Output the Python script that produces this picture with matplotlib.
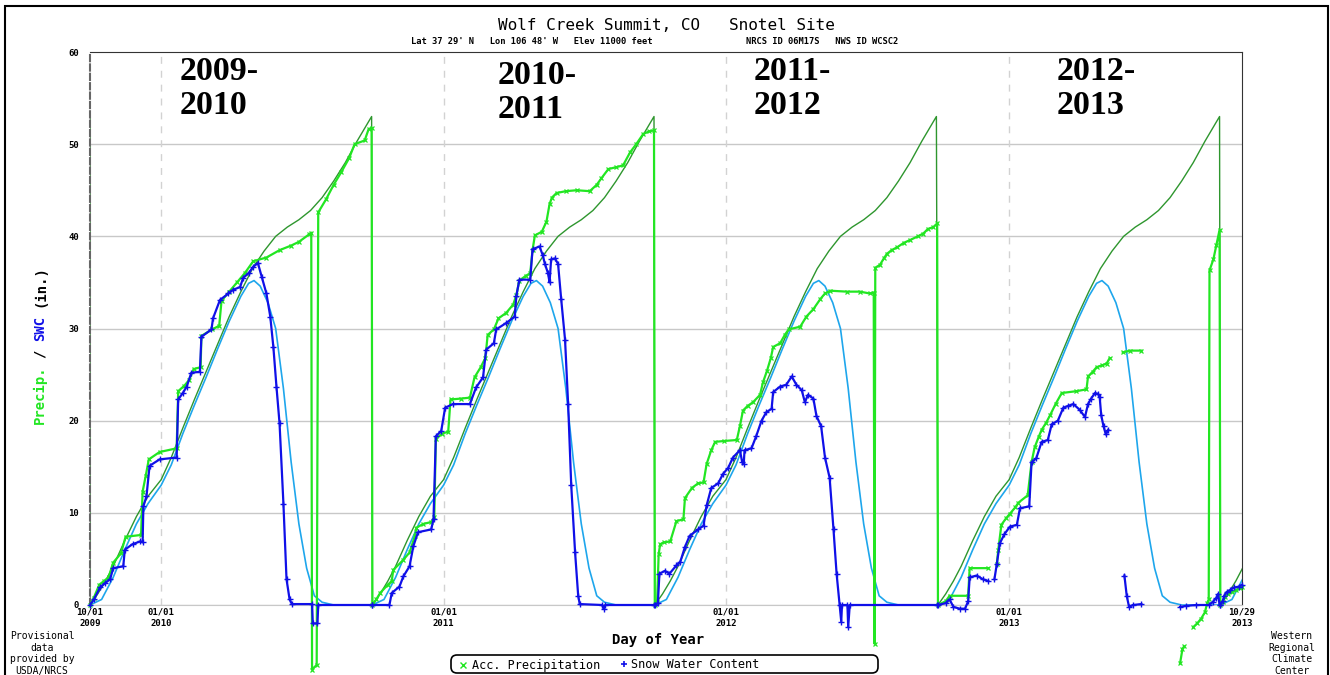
import numpy as np
import matplotlib
matplotlib.use("Agg")
import matplotlib.pyplot as plt
from matplotlib.patches import Rectangle, FancyBboxPatch
from matplotlib.lines import Line2D

nan = np.nan
W, H = 1330, 675
MONO = "DejaVu Sans Mono"

# start of each water year on the chart
wy_start = ["2009-10-01", "2010-10-01", "2011-10-01", "2012-10-01", "2013-10-01"]

# normal (median) curves, day of water year -> inches
normal_precip_day = [0, 10, 20, 30, 45, 60, 75, 92, 105, 120, 135, 150, 165, 180, 195,
                     210, 225, 240, 255, 270, 285, 300, 315, 330, 345, 364]
normal_precip = [0, 1.2, 2.6, 4.2, 7.0, 9.6, 11.8, 13.6, 16.0, 19.2, 22.3, 25.3, 28.3, 31.3, 34.0,
                 36.5, 38.4, 40.0, 41.0, 41.8, 42.8, 44.2, 46.0, 48.0, 50.3, 53.0]
normal_swc_day = [0, 15, 30, 45, 60, 75, 92, 105, 120, 135, 150, 165, 180, 195, 205, 212,
                  220, 230, 240, 250, 260, 270, 280, 290, 300, 315, 364]
normal_swc = [0, 0.6, 3.0, 6.0, 8.8, 11.0, 13.0, 15.2, 18.6, 21.7, 24.7, 27.8, 30.8, 33.5, 34.9, 35.2,
              34.6, 32.8, 30.0, 23.5, 15.5, 8.8, 4.0, 1.0, 0.3, 0, 0]

# accumulated precipitation (nan = missing)
p_day_2010 = [0, 5, 12, 18, 24, 30, 40, 46, 66, 68, 72, 76, 90, 112, 114, 122, 128, 134, 143, 144,
              158, 167, 170, 180, 190, 200, 211, 228, 245, 260, 270, 283, 286, 287, 293, 295, 305,
              315, 325, 335, 342, 355, 360, 364]
p_2010 = [0, 0.8, 2.2, 2.6, 3.0, 4.6, 5.6, 7.4, 7.6, 12.3, 14.0, 15.8, 16.6, 17.0, 23.2, 23.8, 24.4,
          25.6, 25.8, 29.2, 29.9, 30.3, 33.0, 34.0, 35.0, 36.0, 37.3, 37.7, 38.5, 39.0, 39.4, 40.2,
          40.4, -7.0, -6.5, 42.6, 44.0, 45.6, 47.0, 48.5, 50.0, 50.4, 51.6, 51.8]
p_day_2011 = [0, 5, 10, 20, 25, 27, 40, 48, 55, 57, 66, 76, 80, 82, 90, 98, 101, 115, 126, 132,
              140, 146, 149, 157, 163, 173, 182, 186, 190, 198, 204, 207, 210, 219, 225, 229, 232,
              238, 250, 264, 281, 290, 296, 305, 315, 324, 333, 341, 350, 358, 364]
p_2011 = [0, 0.6, 1.3, 2.2, 2.6, 3.8, 4.9, 5.7, 7.5, 8.4, 8.8, 9.0, 9.5, 18.0, 18.6, 18.8, 22.3, 22.4,
          22.5, 24.7, 25.8, 26.8, 29.3, 29.9, 31.1, 31.7, 32.6, 33.6, 35.2, 35.7, 36.0, 38.5, 40.1,
          40.5, 41.6, 43.5, 44.2, 44.7, 44.9, 45.0, 44.9, 45.6, 46.3, 47.3, 47.5, 47.7, 49.1, 50.0,
          51.1, 51.4, 51.5]
p_day_2012 = [0, 3, 5, 7, 12, 20, 28, 37, 39, 48, 56, 63, 67, 73, 78, 90, 106, 110, 114, 120, 127,
              136, 140, 145, 150, 153, 162, 168, 173, 188, 196, 205, 214, 220, 227, 248, 265, 278,
              283, 284, 285, 291, 296, 300, 306, 313, 322, 330, 340, 347, 353, 360, 365]
p_2012 = [0, 0.3, 5.5, 6.6, 6.8, 6.9, 9.1, 9.3, 11.6, 12.7, 13.2, 13.3, 15.3, 16.8, 17.7, 17.8, 17.9,
          19.4, 21.1, 21.6, 22.0, 22.8, 24.2, 25.4, 26.8, 28.0, 28.4, 29.3, 29.9, 30.2, 31.3, 32.1,
          33.2, 33.8, 34.1, 34.0, 34.0, 33.8, 33.9, -4.2, 36.6, 36.9, 37.6, 38.1, 38.5, 38.8, 39.3,
          39.6, 40.0, 40.3, 40.8, 41.0, 41.4]
p_day_2013 = [0, 10, 15, 39, 41, 65, 70, 76, 78, 82, 88, 93, 100, 104, 116, 121, 125, 130, 134,
              140, 145, 152, 160, 179, 192, 194, 200, 205, 212, 218, 222, 230, 239, 248, 263, 290,
              313, 316, 318, 324, 330, 335, 340, 345, 348, 350, 351, 356, 360, 364]
p_2013 = [0, 0.4, 1.0, 1.0, 4.0, 4.0, nan, 4.4, 6.0, 8.7, 9.4, 9.9, 10.6, 11.1, 11.9, 15.5, 17.1,
          18.2, 19.0, 19.8, 20.6, 21.8, 23.0, 23.2, 23.4, 24.8, 25.3, 25.8, 26.0, 26.2, 26.8, nan,
          27.4, 27.6, 27.6, nan, -6.3, -4.8, -4.5, nan, -2.4, -2.0, -1.5, -0.8, 0.2, 0.6, 36.3,
          37.5, 39.1, 40.7]
p_day_2014 = [0, 3, 6, 10, 15, 20, 25, 28]
p_2014 = [0, 0.3, 0.9, 1.2, 1.4, 1.6, 1.8, 2.0]

# snow water content
s_day_2010 = [0, 5, 13, 20, 26, 30, 43, 45, 55, 65, 68, 69, 73, 77, 90, 112, 114, 120, 125, 131,
              142, 144, 157, 159, 168, 179, 185, 194, 198, 205, 211, 217, 222, 228, 233, 237, 241,
              245, 250, 254, 258, 261, 287, 288, 294, 295, 364]
s_2010 = [0, 0.6, 1.9, 2.4, 2.8, 4.0, 4.2, 6.0, 6.6, 6.9, 6.8, 10.7, 11.8, 15.1, 15.8, 16.0, 22.3,
          23.0, 23.7, 25.2, 25.3, 29.1, 29.9, 31.1, 33.1, 33.8, 34.2, 34.5, 35.5, 36.0, 36.7, 37.1,
          35.6, 33.8, 31.3, 28.0, 23.7, 19.7, 11.0, 2.8, 0.6, 0.1, 0.1, -2.0, -2.0, 0.0, 0.0]
s_day_2011 = [0, 22, 25, 35, 40, 48, 53, 59, 76, 79, 82, 89, 94, 104, 126, 134, 143, 147, 157, 160,
              173, 184, 186, 190, 204, 207, 216, 220, 223, 227, 229, 231, 236, 240, 244, 249, 253,
              257, 262, 266, 268, 297, 299, 301, 364]
s_2011 = [0, 0, 1.3, 2.0, 3.1, 4.2, 6.4, 7.9, 8.2, 9.3, 18.3, 18.9, 21.4, 21.8, 21.8, 23.6, 24.7,
          27.7, 28.4, 29.9, 30.6, 31.3, 33.5, 35.3, 35.3, 38.6, 38.9, 38.0, 37.0, 36.0, 35.0, 37.5,
          37.6, 37.0, 33.2, 28.8, 21.8, 13.0, 5.7, 1.0, 0.1, 0.0, -0.4, 0.0, 0.0]
s_day_2012 = [0, 4, 6, 13, 19, 28, 33, 39, 45, 56, 63, 67, 73, 82, 88, 95, 101, 110, 113, 115, 116,
              125, 131, 138, 144, 151, 153, 162, 170, 177, 183, 190, 194, 198, 205, 209, 215, 220,
              226, 231, 235, 239, 241, 242, 249, 250, 252, 365]
s_2012 = [0, 0.2, 3.4, 3.7, 3.4, 4.3, 4.7, 6.3, 7.5, 8.2, 8.6, 10.8, 12.7, 13.2, 14.2, 14.9, 16.0,
          16.8, 15.5, 15.3, 16.8, 17.0, 18.3, 20.0, 20.9, 21.3, 23.1, 23.7, 23.9, 24.8, 23.9, 23.3,
          22.0, 22.8, 22.4, 20.5, 19.4, 16.0, 13.8, 8.2, 3.4, 0.0, -1.8, 0.0, 0.0, -2.4, 0.0, 0.0]
s_day_2013 = [0, 10, 15, 20, 28, 35, 39, 41, 50, 58, 65, 70, 73, 76, 80, 86, 93, 102, 106, 118,
              121, 127, 134, 142, 147, 155, 162, 168, 175, 183, 190, 194, 198, 203, 207, 209, 211,
              214, 217, 220, 230, 241, 244, 247, 252, 263, 290, 313, 320, 334, 350, 355, 360, 362, 364]
s_2013 = [0, 0.2, 0.6, -0.2, -0.4, -0.4, 0.4, 3.0, 3.2, 2.8, 2.6, nan, 2.8, 4.4, 6.7, 7.7, 8.5, 8.7,
          10.5, 10.7, 15.5, 15.9, 17.7, 17.9, 19.6, 20.0, 21.4, 21.6, 21.8, 21.2, 20.4, 21.8, 22.4,
          23.0, 22.9, 22.6, 20.6, 19.4, 18.5, 19.0, nan, 3.2, 1.0, -0.2, 0.0, 0.1, nan, -0.2, -0.1,
          0.0, 0.0, 0.3, 0.8, 1.2, 0.0]
s_day_2014 = [0, 3, 5, 8, 12, 18, 24, 28]
s_2014 = [0, 0.4, 1.0, 1.4, 1.6, 1.9, 2.0, 2.2]

tick_dates = ["2009-10-01", "2010-01-01", "2011-01-01", "2012-01-01", "2013-01-01", "2013-10-29"]
tick_labels = ["10/01\n2009", "01/01\n2010", "01/01\n2011", "01/01\n2012", "01/01\n2013", "10/29\n2013"]
season_labels = ["2009-\n2010", "2010-\n2011", "2011-\n2012", "2012-\n2013"]


def to_dates(start, days):
    return np.datetime64(start) + np.array(days, dtype="timedelta64[D]")


def join_years(day_lists, val_lists):
    x = np.concatenate([to_dates(s, d) for s, d in zip(wy_start, day_lists)])
    y = np.concatenate([np.array(v, dtype=float) for v in val_lists])
    return x, y


def px(x, y):
    # pixel position -> figure fraction
    return x / W, 1 - y / H


precip_x, precip_y = join_years([p_day_2010, p_day_2011, p_day_2012, p_day_2013, p_day_2014],
                                [p_2010, p_2011, p_2012, p_2013, p_2014])
swc_x, swc_y = join_years([s_day_2010, s_day_2011, s_day_2012, s_day_2013, s_day_2014],
                          [s_2010, s_2011, s_2012, s_2013, s_2014])

# normals repeat every water year; the first point is the end of the previous year
np_x = np.concatenate([to_dates(wy_start[0], [0])] + [to_dates(s, normal_precip_day) for s in wy_start])
np_y = np.concatenate([[normal_precip[-1]]] + [normal_precip for _ in wy_start])
ns_x = np.concatenate([to_dates(s, normal_swc_day) for s in wy_start])
ns_y = np.concatenate([normal_swc for _ in wy_start])

fig = plt.figure(figsize=(W / 100, H / 100), dpi=100)
ax = fig.add_axes([90 / W, 1 - 605 / H, 1152 / W, 553 / H])

tick_x = np.array(tick_dates, dtype="datetime64[D]")
ax.set_xlim(tick_x[0], tick_x[-1])
ax.set_ylim(0, 60)

# grid
for v in range(0, 60, 10):
    ax.axhline(v, color="#c8c8c8", lw=1, zorder=0)
for d in tick_x[1:-1]:
    ax.axvline(d, color="#d2d2d2", lw=1, ls=(0, (5, 5)), zorder=0)

ax.plot(np_x, np_y, color="#2e962e", lw=1, zorder=2)
ax.plot(ns_x, ns_y, color="#1ea6ec", lw=1.2, zorder=2)
ax.plot(precip_x, precip_y, color="#22e622", lw=1.6, marker="x", ms=3.2, mew=0.9,
        zorder=3, clip_on=False)
ax.plot(swc_x, swc_y, color="#1010e8", lw=1.6, marker="+", ms=4, mew=1,
        zorder=4, clip_on=False)

ax.set_yticks(range(0, 61, 10))
ax.set_yticklabels([str(v) for v in range(0, 61, 10)], fontfamily=MONO, fontweight="bold", fontsize=6.5)
ax.set_xticks(tick_x)
ax.set_xticklabels(tick_labels, fontfamily=MONO, fontweight="bold", fontsize=6.5, linespacing=1.35)
ax.tick_params(axis="y", length=0, pad=8)
ax.tick_params(axis="x", length=0, pad=2)

ax.spines["top"].set_color("#333333")
ax.spines["right"].set_color("#333333")
ax.spines["bottom"].set_color("#c8c8c8")
ax.spines["left"].set_color("#666666")
ax.spines["left"].set_linestyle((0, (3, 1.5)))
ax.spines["left"].set_linewidth(1.5)
ax.set_facecolor("white")

# outer frame
fig.patches.append(Rectangle(px(5, 700), 1323 / W, 694 / H, transform=fig.transFigure,
                             fill=False, ec="black", lw=1.5))

# titles
fig.text(*px(666, 25), "Wolf Creek Summit, CO   Snotel Site", ha="center", va="center",
         fontfamily=MONO, fontsize=11.5)
fig.text(*px(411, 41), "Lat 37 29' N   Lon 106 48' W   Elev 11000 feet", ha="left", va="center",
         fontfamily=MONO, fontweight="bold", fontsize=6.3)
fig.text(*px(746, 41), "NRCS ID 06M17S   NWS ID WCSC2", ha="left", va="center",
         fontfamily=MONO, fontweight="bold", fontsize=6.3)

# y label in three colours
adv = 0.602 * 10 * 100 / 72
for piece, pos, col in [("Precip.", 3.5, "#22e622"), ("/", 8.5, "black"),
                        ("SWC", 11.5, "#1010e8"), ("(in.)", 16.5, "black")]:
    fig.text(*px(40, 345 + (9.5 - pos) * adv), piece, rotation=90, ha="center", va="center",
             color=col, fontfamily=MONO, fontweight="bold", fontsize=10)

fig.text(*px(658, 640), "Day of Year", ha="center", va="center",
         fontfamily=MONO, fontweight="bold", fontsize=10)

fig.text(*px(42, 631), "Provisional\ndata\nprovided by\nUSDA/NRCS", ha="center", va="top",
         fontfamily=MONO, fontsize=7, linespacing=1.2)
fig.text(*px(1292, 631), "Western\nRegional\nClimate\nCenter", ha="center", va="top",
         fontfamily=MONO, fontsize=7, linespacing=1.2)

# season labels
for label, (lx, ly) in zip(season_labels, [(180, 56), (498, 60), (754, 56), (1057, 56)]):
    fig.text(*px(lx, ly), label, ha="left", va="top", fontfamily="Liberation Serif",
             fontweight="bold", fontsize=24.5, linespacing=1.12)

# legend box
fig.patches.append(FancyBboxPatch((4.51, 0.02), 4.27, 0.18, boxstyle="round,pad=0,rounding_size=0.06",
                                  transform=fig.dpi_scale_trans, fill=False, ec="black", lw=1.2))
fig.add_artist(Line2D([463 / W], [1 - 665 / H], marker="x", color="#22e622", ms=5, mew=1,
                      transform=fig.transFigure))
fig.text(*px(472, 665), "Acc. Precipitation", ha="left", va="center", fontfamily=MONO, fontsize=8.5)
fig.add_artist(Line2D([624 / W], [1 - 664 / H], marker="+", color="#1010e8", ms=5, mew=1.2,
                      transform=fig.transFigure))
fig.text(*px(631, 665), "Snow Water Content", ha="left", va="center", fontfamily=MONO, fontsize=8.5)

fig.savefig("out.png", dpi=100)
